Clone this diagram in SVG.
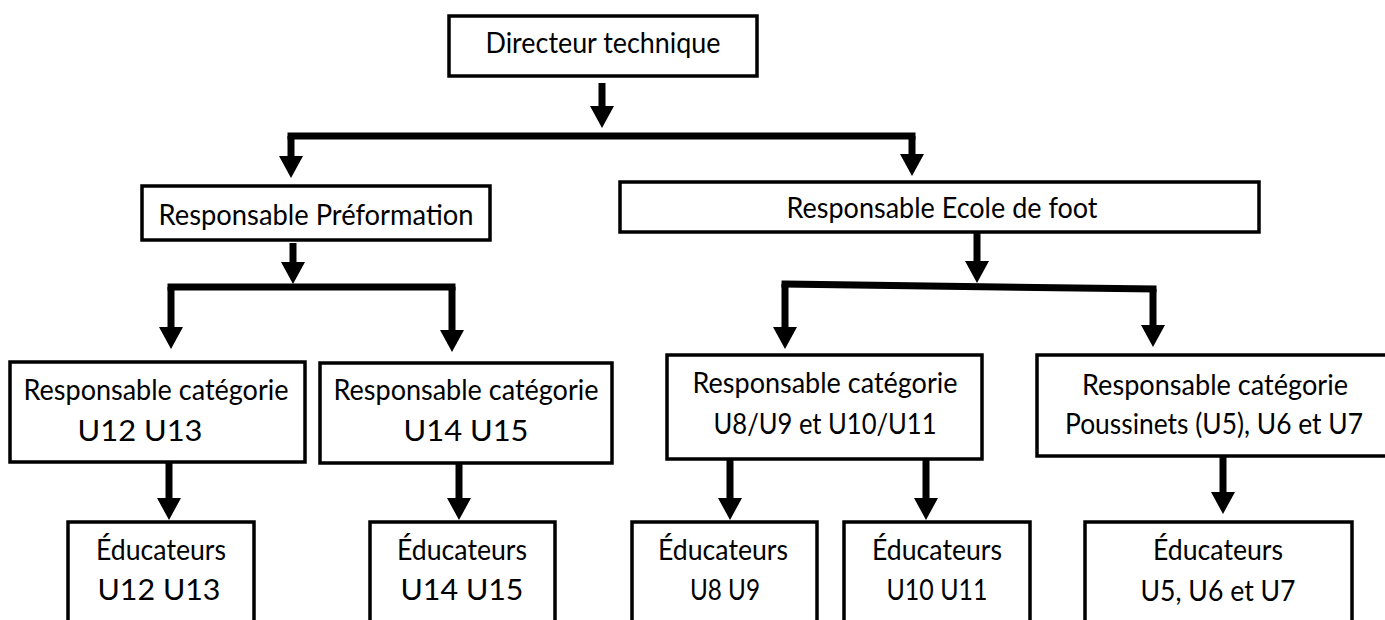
<svg xmlns="http://www.w3.org/2000/svg" width="1385" height="620" viewBox="0 0 1385 620">
<style>
.box{fill:#fff;stroke:#000;stroke-width:3.5}
.t{font-family:Lato,"Liberation Sans",sans-serif;font-size:28px;fill:#000;text-anchor:middle}
.c{stroke:#000;stroke-width:7;fill:none}
.bar{stroke:#000;stroke-width:7;fill:none;stroke-linecap:square}
.a{stroke:#000;stroke-width:7;fill:none;marker-end:url(#ah)}
</style>
<defs>
<marker id="ah" viewBox="0 -12 22 24" refX="0" refY="0" markerWidth="22" markerHeight="24" markerUnits="userSpaceOnUse" orient="auto">
<path d="M0,-12 L22,0 L0,12 Z" fill="#000"/>
</marker>
</defs>
<rect width="1385" height="620" fill="#fff"/>
<g id="connectors">
<line class="a" x1="602" y1="83" x2="602" y2="106"/>
<line class="bar" x1="291" y1="136" x2="912" y2="136"/>
<line class="a" x1="291" y1="136" x2="291" y2="156"/>
<line class="a" x1="912" y1="136" x2="912" y2="154"/>
<line class="a" x1="293" y1="243" x2="293" y2="262"/>
<line class="bar" x1="171" y1="287" x2="452" y2="287"/>
<line class="a" x1="171" y1="287" x2="171" y2="327"/>
<line class="a" x1="452" y1="287" x2="452" y2="330"/>
<line class="a" x1="169" y1="463" x2="169" y2="498"/>
<line class="a" x1="459" y1="463" x2="459" y2="498"/>
<line class="a" x1="977" y1="232" x2="977" y2="261"/>
<line class="bar" x1="785" y1="284" x2="1153" y2="289"/>
<line class="a" x1="785" y1="284" x2="785" y2="327"/>
<line class="a" x1="1153" y1="289" x2="1153" y2="325"/>
<line class="a" x1="730" y1="459" x2="730" y2="498"/>
<line class="a" x1="926" y1="459" x2="926" y2="498"/>
<line class="a" x1="1223" y1="456" x2="1223" y2="492"/>
</g>
<g id="directeur">
<rect class="box" x="449" y="16" width="308" height="60"/>
<text class="t" x="603" y="53" textLength="235" lengthAdjust="spacingAndGlyphs">Directeur technique</text>
</g>
<g id="preformation">
<rect class="box" x="142" y="186" width="348" height="54"/>
<text class="t" x="316" y="225" textLength="315" lengthAdjust="spacingAndGlyphs">Responsable Préformation</text>
</g>
<g id="ecole">
<rect class="box" x="620" y="182" width="639" height="50"/>
<text class="t" x="942" y="218" textLength="311" lengthAdjust="spacingAndGlyphs">Responsable Ecole de foot</text>
</g>
<g id="rc-u12">
<rect class="box" x="10" y="362" width="295" height="100"/>
<text class="t" x="156" y="400" textLength="265" lengthAdjust="spacingAndGlyphs">Responsable catégorie</text>
<text class="t" x="140" y="441" textLength="125" lengthAdjust="spacingAndGlyphs">U12 U13</text>
</g>
<g id="rc-u14">
<rect class="box" x="320" y="363" width="292" height="100"/>
<text class="t" x="466" y="400" textLength="265" lengthAdjust="spacingAndGlyphs">Responsable catégorie</text>
<text class="t" x="466" y="441" textLength="125" lengthAdjust="spacingAndGlyphs">U14 U15</text>
</g>
<g id="rc-u8">
<rect class="box" x="667" y="355" width="315" height="104"/>
<text class="t" x="825" y="393" textLength="265" lengthAdjust="spacingAndGlyphs">Responsable catégorie</text>
<text class="t" x="825" y="434" textLength="223" lengthAdjust="spacingAndGlyphs">U8/U9 et U10/U11</text>
</g>
<g id="rc-poussinets">
<rect class="box" x="1037" y="355" width="360" height="101"/>
<text class="t" x="1215" y="395" textLength="266" lengthAdjust="spacingAndGlyphs">Responsable catégorie</text>
<text class="t" x="1214" y="434" textLength="298" lengthAdjust="spacingAndGlyphs">Poussinets (U5), U6 et U7</text>
</g>
<g id="edu-u12">
<rect class="box" x="68" y="522" width="186" height="110"/>
<text class="t" x="161" y="560" textLength="130" lengthAdjust="spacingAndGlyphs">Éducateurs</text>
<text class="t" x="159" y="600" textLength="123" lengthAdjust="spacingAndGlyphs">U12 U13</text>
</g>
<g id="edu-u14">
<rect class="box" x="370" y="522" width="185" height="110"/>
<text class="t" x="462" y="560" textLength="130" lengthAdjust="spacingAndGlyphs">Éducateurs</text>
<text class="t" x="462" y="600" textLength="123" lengthAdjust="spacingAndGlyphs">U14 U15</text>
</g>
<g id="edu-u8">
<rect class="box" x="632" y="522" width="185" height="110"/>
<text class="t" x="723" y="560" textLength="130" lengthAdjust="spacingAndGlyphs">Éducateurs</text>
<text class="t" x="725" y="600" textLength="70" lengthAdjust="spacingAndGlyphs">U8 U9</text>
</g>
<g id="edu-u10">
<rect class="box" x="844" y="522" width="186" height="110"/>
<text class="t" x="937" y="560" textLength="130" lengthAdjust="spacingAndGlyphs">Éducateurs</text>
<text class="t" x="937" y="600" textLength="101" lengthAdjust="spacingAndGlyphs">U10 U11</text>
</g>
<g id="edu-u5">
<rect class="box" x="1085" y="522" width="267" height="110"/>
<text class="t" x="1218" y="560" textLength="130" lengthAdjust="spacingAndGlyphs">Éducateurs</text>
<text class="t" x="1218" y="601" textLength="155" lengthAdjust="spacingAndGlyphs">U5, U6 et U7</text>
</g>
</svg>
